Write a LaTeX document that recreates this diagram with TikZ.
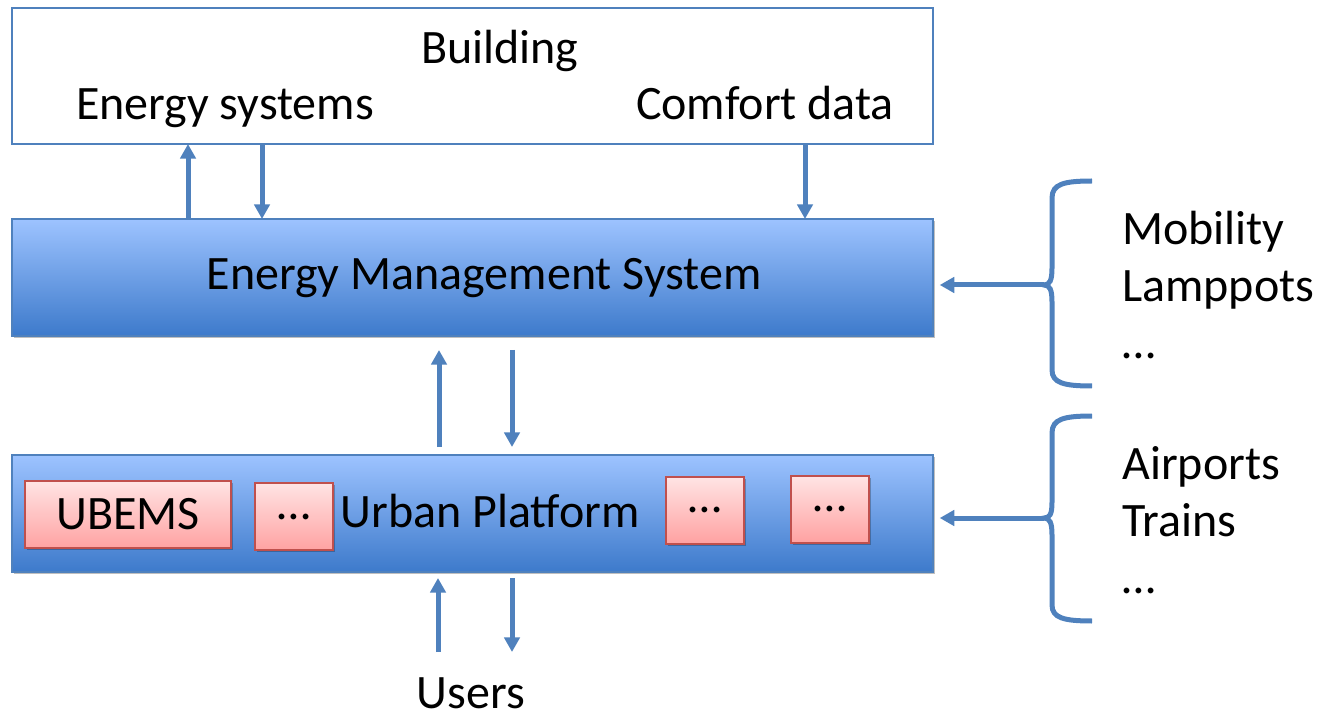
\documentclass[tikz,border=0pt]{standalone}
\usepackage{fontspec}
\setmainfont{Carlito}
\usetikzlibrary{arrows.meta,shadows}
\definecolor{bl}{HTML}{4F81BD}
\definecolor{barTop}{HTML}{9DC3FF}
\definecolor{barBot}{HTML}{3D7ACB}
\definecolor{pinkTop}{HTML}{FFE4E4}
\definecolor{pinkBot}{HTML}{FFA2A2}
\definecolor{pinkLine}{HTML}{C0504D}
\begin{document}
\begin{tikzpicture}[x=0.75pt,y=-0.75pt,
  txt/.style={font=\fontsize{36}{43}\selectfont, inner sep=0pt, anchor=base},
  shade/.style={drop shadow={shadow xshift=1.5pt, shadow yshift=-1.5pt, opacity=0.25, fill=black}},
  bar/.style={shade, draw=bl, line width=1pt, top color=barTop, bottom color=barBot,
    inner sep=0pt, outer sep=0pt, minimum width=690.75pt, minimum height=87.75pt},
  pinkbox/.style={shade, draw=pinkLine, line width=1.5pt, top color=pinkTop, bottom color=pinkBot,
    inner sep=0pt, outer sep=0pt, minimum height=50.25pt, font=\fontsize{36}{43}\selectfont},
  arr/.style={draw=bl, line width=3.75pt, -{Triangle[length=11pt,width=11.5pt]}},
  bracepath/.style={draw=bl, line width=3.75pt}
]
\useasboundingbox (0,0) rectangle (1324,716);

% Building box
\node[draw=bl, line width=1.2pt, fill=white, inner sep=0pt, outer sep=0pt,
  minimum width=690.75pt, minimum height=102pt] (bld) at (472.5,76) {};
\node[txt] (bldt) at (500,64) {Building};
\node[txt] (es) at (225,120) {Energy systems};
\node[txt] (cd) at (765,120) {Comfort data};

% EMS bar
\node[bar] (ems) at (472.5,277.5) {};
\node[txt] (emst) at (484,290) {Energy Management System};

% Urban platform bar
\node[bar] (up) at (472.5,513.5) {};
\node[pinkbox, minimum width=154.5pt] (ubems) at (128,514.5) {UBEMS};
\node[pinkbox, minimum width=58.5pt] (d1) at (294,516.5) {…};
\node[pinkbox, minimum width=58.5pt] (d2) at (705,510) {…};
\node[pinkbox, minimum width=58.5pt] (d3) at (830,509) {…};
\node[txt] (upt) at (490,527) {Urban Platform};

% arrows building <-> EMS
\draw[arr] (188,0 |- ems.north) -- (188,0 |- bld.south);
\draw[arr] (262,0 |- bld.south) -- (262,0 |- ems.north);
\draw[arr] (805,0 |- bld.south) -- (805,0 |- ems.north);

% arrows EMS <-> UP
\draw[arr, shorten <=6pt, shorten >=10.5pt] (439,0 |- up.north) -- (439,0 |- ems.south);
\draw[arr, shorten <=10.5pt, shorten >=6pt] (512,0 |- ems.south) -- (512,0 |- up.north);

% users
\node[txt] (users) at (471,708) {Users};
\coordinate (u1) at (438,652);
\coordinate (u2) at (512,652);
\draw[arr, shorten >=4.5pt] (u1) -- (u1 |- up.south);
\draw[arr, shorten <=4.5pt] (u2 |- up.south) -- (u2);

% braces
\coordinate (b1) at (1044,285);
\draw[bracepath] (1092,181) .. controls (1064,181) and (1052,184) .. (1052,198)
  -- (1052,268) .. controls (1052,280) and (1050,285) .. (b1)
  .. controls (1050,285) and (1052,290) .. (1052,302)
  -- (1052,370) .. controls (1052,383) and (1064,386) .. (1092,386);
\draw[arr, shorten >=5pt] (b1) -- (ems.east |- b1);

\coordinate (b2) at (1044,518);
\draw[bracepath] (1092,416) .. controls (1064,416) and (1052,419) .. (1052,433)
  -- (1052,502) .. controls (1052,514) and (1050,518) .. (b2)
  .. controls (1050,518) and (1052,523) .. (1052,535)
  -- (1052,605) .. controls (1052,618) and (1064,621) .. (1092,621);
\draw[arr, shorten >=5pt] (b2) -- (up.east |- b2);

% right texts
\node[txt, anchor=base west] (mob) at (1122,245) {Mobility};
\node[txt, anchor=base west] (lamp) at (1122,302) {Lamppots};
\node[txt, anchor=base west] (dots1) at (1122,359) {…};
\node[txt, anchor=base west] (air) at (1122,479) {Airports};
\node[txt, anchor=base west] (trn) at (1122,536) {Trains};
\node[txt, anchor=base west] (dots2) at (1122,593) {…};
\end{tikzpicture}
\end{document}
